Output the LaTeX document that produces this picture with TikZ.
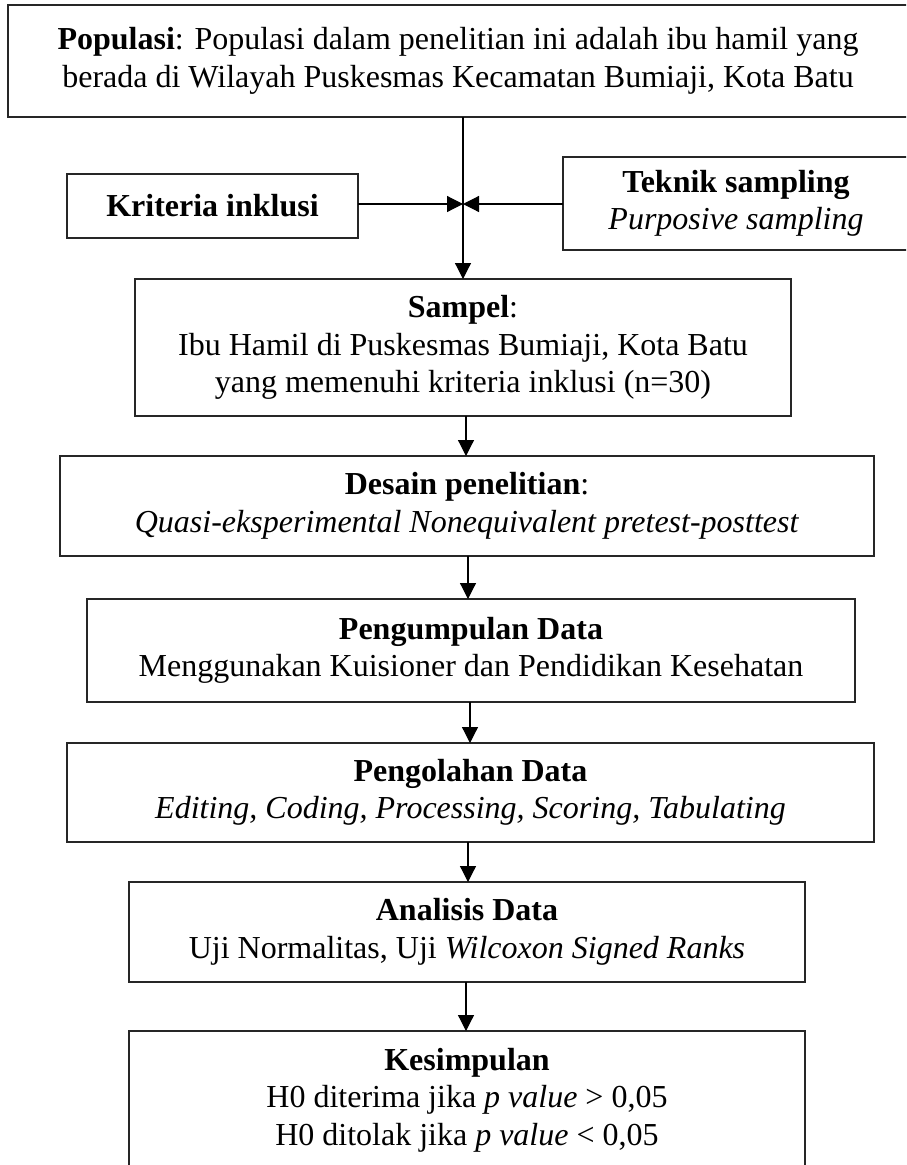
\documentclass[tikz,border=0pt]{standalone}
\usepackage{fontspec}
\setmainfont{Liberation Serif}
\usetikzlibrary{arrows.meta}
\begin{document}
\begin{tikzpicture}[x=1pt,y=-1pt,
  box/.style={draw=black!85, line width=1.2pt, inner sep=0pt, outer sep=0pt, align=center,
    font=\fontsize{32}{37.5}\selectfont},
  txt/.style={inner sep=0pt, outer sep=0pt, align=center, font=\fontsize{32}{37.5}\selectfont},
  arr/.style={line width=1.2pt, -{Triangle[length=16pt,width=16pt]}}]
\clip (0,0) rectangle (906,1165);
\useasboundingbox (0,0) rectangle (906,1165);
\fill[white] (0,0) rectangle (906,1165);

\node[box, minimum width=900pt, minimum height=112pt] (pop) at (458,61)
  {\textbf{Populasi}: Populasi dalam penelitian ini adalah ibu hamil yang\\
   berada di Wilayah Puskesmas Kecamatan Bumiaji, Kota Batu};
\node[box, minimum width=291pt, minimum height=64pt] (krit) at (212.5,206)
  {\textbf{Kriteria inklusi}};
\node[box, minimum width=346pt, minimum height=93pt] (tek) at (736,203.5)
  {\textbf{Teknik sampling}\\ \textit{Purposive sampling}};
\node[box, minimum width=656pt, minimum height=137pt] (sampel) at (463,347.5)
  {\textbf{Sampel}:\\ Ibu Hamil di Puskesmas Bumiaji, Kota Batu\\ yang memenuhi kriteria inklusi (n=30)};
\node[box, minimum width=814pt, minimum height=100pt] (desain) at (467,506)
  {\textbf{Desain penelitian}:\\ \textit{Quasi-eksperimental Nonequivalent pretest-posttest}};
\node[box, minimum width=768pt, minimum height=103pt] (kumpul) at (471,650.5)
  {\textbf{Pengumpulan Data}\\ Menggunakan Kuisioner dan Pendidikan Kesehatan};
\node[box, minimum width=807pt, minimum height=99pt] (olah) at (470.5,792.5)
  {\textbf{Pengolahan Data}\\ \textit{Editing, Coding, Processing, Scoring, Tabulating}};
\node[box, minimum width=676pt, minimum height=100pt] (anal) at (467,932)
  {\textbf{Analisis Data}\\ Uji Normalitas, Uji \textit{Wilcoxon Signed Ranks}};
\node[box, minimum width=676pt, minimum height=149pt] (kes) at (467,1105.5) {};
\node[txt] (kestxt) at (467,1100)
  {\textbf{Kesimpulan}\\ H0 diterima jika \textit{p value} > 0,05\\ H0 ditolak jika \textit{p value} < 0,05};

\coordinate (J) at (463,204);
\coordinate (c1) at (466,0);
\coordinate (c2) at (468,0);
\coordinate (c3) at (470,0);
\coordinate (c4) at (468,0);
\coordinate (c5) at (466,0);

\draw[line width=1.2pt] (pop.south -| J) -- (J);
\draw[arr] (J) -- (sampel.north -| J);
\draw[arr] (krit.east |- J) -- (J);
\draw[arr] (tek.west |- J) -- (J);
\draw[arr] (sampel.south -| c1) -- (desain.north -| c1);
\draw[arr] (desain.south -| c2) -- (kumpul.north -| c2);
\draw[arr] (kumpul.south -| c3) -- (olah.north -| c3);
\draw[arr] (olah.south -| c4) -- (anal.north -| c4);
\draw[arr] (anal.south -| c5) -- (kes.north -| c5);
\end{tikzpicture}
\end{document}
